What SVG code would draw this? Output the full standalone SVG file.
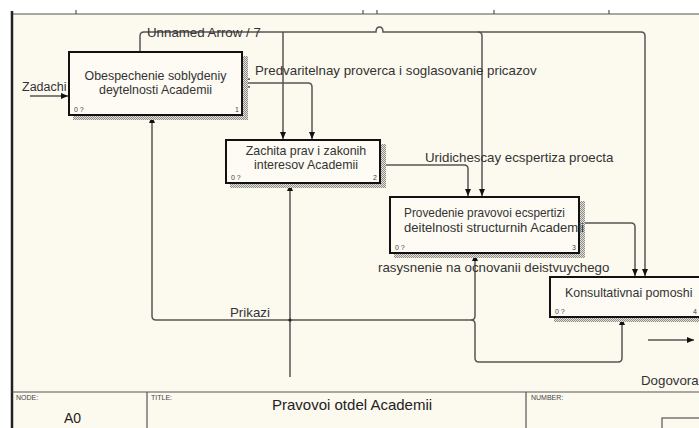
<svg xmlns="http://www.w3.org/2000/svg" width="699" height="428" viewBox="0 0 699 428">
<style>
.bg{fill:#fcf9ef}
.box{fill:#fdfbf3;stroke:#111;stroke-width:2}
.sh{fill:url(#hatch)}
.bt{font-family:"Liberation Sans",Arial,sans-serif;font-size:12.4px;fill:#333}
.sm{font-family:"Liberation Sans",Arial,sans-serif;font-size:7px;fill:#444}
.lb{font-family:"Liberation Sans",Arial,sans-serif;font-size:13.3px;fill:#333}
.c{fill:none;stroke:#555;stroke-width:1.5}
.fr{fill:none;stroke:#555;stroke-width:1.2}
</style>
<defs>
<pattern id="hatch" width="2" height="2" patternUnits="userSpaceOnUse">
<rect width="2" height="2" fill="#e4e2da"/>
<rect width="1" height="1" fill="#8e8c86"/>
<rect x="1" y="1" width="1" height="1" fill="#8e8c86"/>
</pattern>
<marker id="ah" markerWidth="8" markerHeight="8" refX="7" refY="4" orient="auto" markerUnits="userSpaceOnUse">
<path d="M0,1 L7,4 L0,7 Z" fill="#111"/>
</marker>
</defs>
<rect x="0" y="0" width="699" height="428" fill="#ffffff"/>
<rect class="bg" x="12" y="14" width="687" height="414"/>
<g id="frame">
<line x1="12" y1="14" x2="699" y2="14" class="fr"/>
<line x1="12" y1="11" x2="12" y2="428" stroke="#222" stroke-width="2.5"/>
<line x1="76" y1="10" x2="76" y2="14" class="fr"/>
<line x1="363" y1="10" x2="363" y2="14" class="fr"/>
<line x1="377" y1="10" x2="377" y2="14" class="fr"/>
<line x1="494" y1="10" x2="494" y2="14" class="fr"/>
<line x1="609" y1="10" x2="609" y2="14" class="fr"/>
<line x1="12" y1="392" x2="699" y2="392" class="fr"/>
<line x1="147" y1="392" x2="147" y2="428" class="fr"/>
<line x1="526" y1="392" x2="526" y2="428" class="fr"/>
<rect x="662" y="418" width="40" height="14" class="fr"/>
<text class="sm" x="16" y="400">NODE:</text>
<text class="sm" x="151" y="400">TITLE:</text>
<text class="sm" x="531" y="400">NUMBER:</text>
<text x="64" y="423" font-family="Liberation Sans,Arial,sans-serif" font-size="14" fill="#222">A0</text>
<text x="272" y="410" font-family="Liberation Sans,Arial,sans-serif" font-size="15" fill="#222">Pravovoi otdel Academii</text>
</g>
<g id="connectors">
<path class="c" d="M30,96 H68" marker-end="url(#ah)"/>
<path class="c" d="M140,51 V36 Q140,32 144,32 H376 Q376,27 379.5,27 Q383,27 383,32 H641 Q645,32 645,36 V276" marker-end="url(#ah)"/>
<path class="c" d="M283,32 V139" marker-end="url(#ah)"/>
<path class="c" d="M478,32 Q482,32 482,36 V196" marker-end="url(#ah)"/>
<path class="c" d="M243,83 H308 Q312,83 312,87 V139" marker-end="url(#ah)"/>
<path class="c" d="M250,79 Q245,79 245,83 Q245,87 250,87"/>
<path class="c" d="M381,165 H464 Q468,165 468,169 V196" marker-end="url(#ah)"/>
<path class="c" d="M580,223 H631 Q635,223 635,227 V276" marker-end="url(#ah)"/>
<path class="c" d="M290,377 V184" marker-end="url(#ah)"/>
<path class="c" d="M290,320 H156 Q152,320 152,316 V116" marker-end="url(#ah)"/>
<path class="c" d="M290,320 H471 Q475,320 475,316 V254" marker-end="url(#ah)"/>
<path class="c" d="M471,320 Q475,320 475,324 V358 Q475,362 479,362 H618 Q622,362 622,358 V318" marker-end="url(#ah)"/>
<circle cx="290" cy="320" r="1.6" fill="#222"/>
<path class="c" d="M648,340 H694" marker-end="url(#ah)"/>
</g>
<g id="labels">
<text class="lb" x="22" y="91" style="font-size:12.5px">Zadachi</text>
<text class="lb" x="147" y="36.5">Unnamed Arrow / 7</text>
<text class="lb" x="255" y="75">Predvaritelnay proverca i soglasovanie pricazov</text>
<text class="lb" x="425" y="162">Uridichescay ecspertiza proecta</text>
<text class="lb" x="378" y="272">rasysnenie na ocnovanii deistvuychego</text>
<text class="lb" x="230" y="317">Prikazi</text>
<text class="lb" x="641" y="385">Dogovora</text>
</g>
<g id="node1">
<rect class="sh" x="243" y="56" width="5" height="64"/>
<rect class="sh" x="73" y="116" width="175" height="4"/>
<rect class="box" x="69" y="52" width="173" height="63"/>
<text class="bt" x="155.5" y="80" text-anchor="middle">Obespechenie soblydeniy</text>
<text class="bt" x="155.5" y="94" text-anchor="middle">deytelnosti Academii</text>
<text class="sm" x="74" y="112">0 ?</text>
<text class="sm" x="235" y="112">1</text>
</g>
<g id="node2">
<rect class="sh" x="381" y="144" width="5" height="44"/>
<rect class="sh" x="230" y="184" width="156" height="4"/>
<rect class="box" x="226" y="140" width="154" height="43"/>
<text class="bt" x="306" y="155" text-anchor="middle">Zachita prav i zakonih</text>
<text class="bt" x="306" y="169" text-anchor="middle">interesov Academii</text>
<text class="sm" x="231" y="180">0 ?</text>
<text class="sm" x="373" y="180">2</text>
</g>
<g id="node3">
<rect class="sh" x="580" y="201" width="5" height="57"/>
<rect class="sh" x="394" y="254" width="191" height="4"/>
<rect class="box" x="390" y="197" width="189" height="56"/>
<text class="bt" x="404" y="217" textLength="161" lengthAdjust="spacingAndGlyphs">Provedenie pravovoi ecspertizi</text>
<text class="bt" x="404" y="232" textLength="180" lengthAdjust="spacingAndGlyphs">deitelnosti structurnih Academii</text>
<text class="sm" x="395" y="250">0 ?</text>
<text class="sm" x="572" y="250">3</text>
</g>
<g id="node4">
<rect class="sh" x="554" y="318" width="150" height="4"/>
<rect class="box" x="550" y="277" width="160" height="40"/>
<text class="bt" x="565" y="297">Konsultativnai pomoshi</text>
<text class="sm" x="555" y="314">0 ?</text>
<text class="sm" x="693" y="314">4</text>
</g>
</svg>
